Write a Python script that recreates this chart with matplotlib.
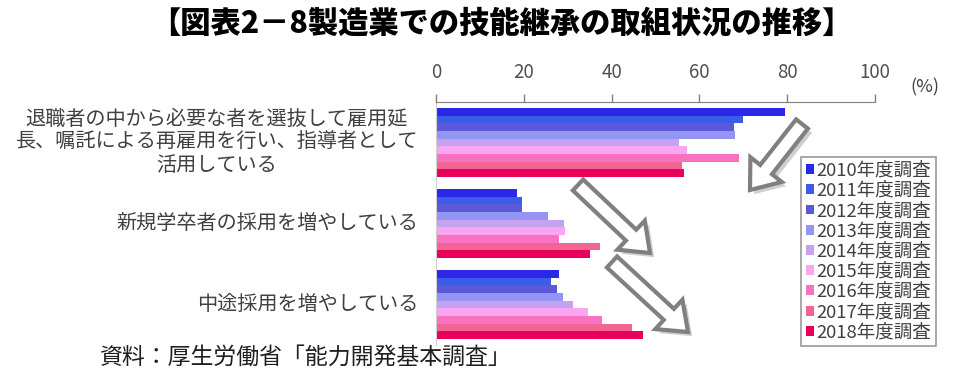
import matplotlib.pyplot as plt
import numpy as np
from matplotlib.patches import FancyArrow
import matplotlib.patheffects as pe

plt.rcParams['font.family'] = ['Noto Sans CJK JP', 'DejaVu Sans']

# 取組内容
categories = [
    "退職者の中から必要な者を選抜して雇用延\n長、嘱託による再雇用を行い、指導者として\n活用している",
    "新規学卒者の採用を増やしている",
    "中途採用を増やしている",
]
years = ["2010年度調査", "2011年度調査", "2012年度調査", "2013年度調査", "2014年度調査",
         "2015年度調査", "2016年度調査", "2017年度調査", "2018年度調査"]
# 年度ごとの割合(%)  [退職者の再雇用, 新規学卒者, 中途採用]
y2010 = [79.6, 18.4, 28.1]
y2011 = [70.0, 19.6, 26.3]
y2012 = [67.9, 19.5, 27.5]
y2013 = [68.0, 25.4, 29.0]
y2014 = [55.4, 29.2, 31.1]
y2015 = [57.1, 29.4, 34.7]
y2016 = [69.0, 28.1, 37.7]
y2017 = [56.1, 37.4, 44.6]
y2018 = [56.5, 35.1, 47.2]
values = [y2010, y2011, y2012, y2013, y2014, y2015, y2016, y2017, y2018]
xticks = [0, 20, 40, 60, 80, 100]

colors = ['#2828e6', '#3c5ce8', '#5a5ad8', '#9494f2', '#c8a2f2',
          '#f8a6f0', '#f872c2', '#f26492', '#e8005a']

fig = plt.figure(figsize=(9.56, 3.72), dpi=100)
ax = fig.add_axes([436 / 956, 1 - 345 / 372, (875 - 436) / 956, 243 / 372])

n = len(years)
bh = 0.095
pos = np.arange(len(categories))
for i, (yr, vals) in enumerate(zip(years, values)):
    off = (i - (n - 1) / 2) * bh
    ax.barh(pos + off, vals, height=bh, color=colors[i], label=yr, linewidth=0)

ax.set_ylim(2.5, -0.5)
ax.set_xlim(0, 100)
ax.xaxis.tick_top()
ax.set_xticks(xticks)
ax.set_xticklabels([str(t) for t in xticks], fontsize=13.5, color='#505050')
ax.tick_params(axis='x', direction='out', length=6, width=1, color='#808080', pad=8)
ax.set_yticks([])
for s in ['bottom', 'right']:
    ax.spines[s].set_visible(False)
ax.spines['top'].set_color('#808080')
ax.spines['left'].set_color('#d0d0d0')

for p, c in zip(pos, categories):
    fig.text(418 / 956, ax.transData.transform((0, p))[1] / 372, c,
             ha='right', va='center', multialignment='center',
             fontsize=14.5, color='#404040', linespacing=1.12)

fig.text(910 / 956, 1 - 87 / 372, "(%)", ha='left', va='center',
         fontsize=13, color='#404040')

leg = fig.legend(loc='upper left', bbox_to_anchor=(801 / 956, 1 - 157 / 372),
                 fontsize=13.3, frameon=True, fancybox=False, handlelength=0.45,
                 handleheight=0.45, handletextpad=0.15, labelspacing=0.12,
                 borderpad=0.25, borderaxespad=0, labelcolor='#404040')
leg.get_frame().set_edgecolor('#808080')
leg.get_frame().set_linewidth(1.2)

fig.text(501 / 956, 1 - 23 / 372, "【図表2－8製造業での技能継承の取組状況の推移】",
         ha='center', va='center', fontsize=21.8, fontweight='black', color='black')
fig.text(100 / 956, 1 - 357 / 372, "資料：厚生労働省「能力開発基本調査」",
         ha='left', va='center', fontsize=16.5, color='#202020')

# 推移を示す矢印(ピクセル座標のオーバーレイ)
ov = fig.add_axes([0, 0, 1, 1], zorder=5)
ov.set_xlim(0, 956)
ov.set_ylim(372, 0)
ov.axis('off')
ov.patch.set_alpha(0)
arrows = [(802, 124, -52, 66), (578, 185, 72, 68), (612, 262, 76, 70)]
for x0, y0, dx, dy in arrows:
    ar = FancyArrow(x0, y0, dx, dy, width=15, head_width=40, head_length=26,
                    length_includes_head=True, facecolor='white',
                    edgecolor='#808080', linewidth=3, joinstyle='miter')
    ar.set_path_effects([pe.SimplePatchShadow(offset=(3, -3), shadow_rgbFace='#b0b0b0', alpha=0.6),
                         pe.Normal()])
    ov.add_patch(ar)

fig.savefig('out.png', dpi=100)
